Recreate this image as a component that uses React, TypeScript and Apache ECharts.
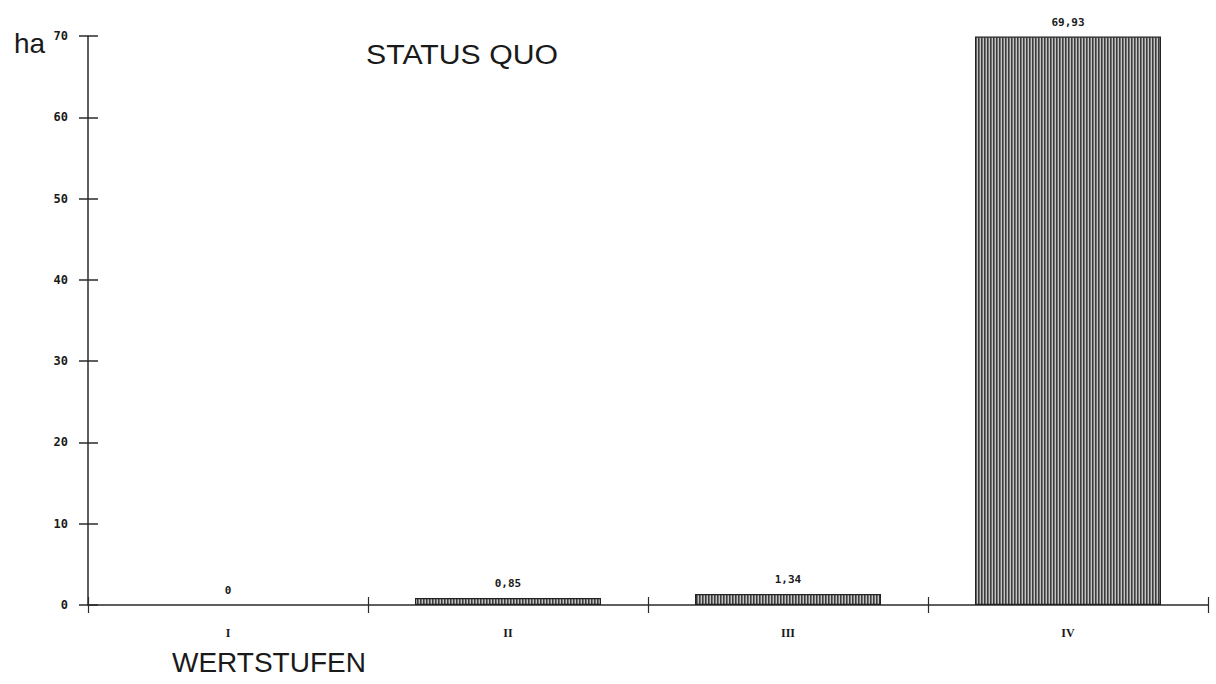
import React, { useEffect, useRef } from "react";
import * as echarts from "echarts";

const categories = ["I", "II", "III", "IV"];
const values = [0, 0.85, 1.34, 69.93];
const yTicks = { min: 0, max: 70, interval: 10 };
const titleText = "STATUS QUO";
const yName = "ha";
const xName = "WERTSTUFEN";

function makeStripes(): HTMLCanvasElement {
  const c = document.createElement("canvas");
  c.width = 3;
  c.height = 4;
  const ctx = c.getContext("2d")!;
  const cols = ["#3c3c3c", "#747474", "#c4c4c4"];
  cols.forEach((col, i) => {
    ctx.fillStyle = col;
    ctx.fillRect(i, 0, 1, 4);
  });
  return c;
}

export default function App() {
  const ref = useRef<HTMLDivElement>(null);
  useEffect(() => {
    document.body.style.margin = "0";
    const chart = echarts.init(ref.current!, null, { renderer: "svg" });
    const stripes = makeStripes();
    const numFont = "'DejaVu Sans Mono', monospace";
    const barData = values.map((v) =>
      v === 0 ? { value: v, itemStyle: { borderWidth: 0, opacity: 0 } } : v
    );
    chart.setOption({
      animation: false,
      backgroundColor: "#ffffff",
      grid: { left: 88, right: 8, top: 36, height: 569, containLabel: false },
      xAxis: [
        {
          type: "category",
          data: categories,
          position: "bottom",
          axisLine: { show: true, lineStyle: { color: "#2a2a2a", width: 1.5 } },
          axisTick: { show: true, length: 8, lineStyle: { color: "#2a2a2a", width: 1.2 } },
          axisLabel: {
            margin: 22,
            color: "#1a1a1a",
            fontFamily: "'Liberation Serif', serif",
            fontWeight: "bold",
            fontSize: 12,
          },
        },
        {
          type: "category",
          data: categories,
          position: "bottom",
          axisLine: { show: false },
          axisTick: { show: true, inside: true, length: 8, lineStyle: { color: "#2a2a2a", width: 1.2 } },
          axisLabel: { show: false },
        },
      ],
      yAxis: [
        {
          type: "value",
          position: "left",
          min: yTicks.min,
          max: yTicks.max,
          interval: yTicks.interval,
          axisLine: { show: true, lineStyle: { color: "#2a2a2a", width: 1.5 } },
          axisTick: { show: true, length: 9, lineStyle: { color: "#2a2a2a", width: 1.5 } },
          axisLabel: {
            margin: 20,
            color: "#1a1a1a",
            fontFamily: numFont,
            fontWeight: "bold",
            fontSize: 12,
          },
          splitLine: { show: false },
        },
        {
          type: "value",
          position: "left",
          min: yTicks.min,
          max: yTicks.max,
          interval: yTicks.interval,
          axisLine: { show: false },
          axisTick: { show: true, inside: true, length: 10, lineStyle: { color: "#2a2a2a", width: 1.5 } },
          axisLabel: { show: false },
          splitLine: { show: false },
        },
      ],
      series: [
        {
          type: "bar",
          data: barData,
          barWidth: 186,
          itemStyle: {
            color: { image: stripes, repeat: "repeat" },
            borderColor: "#222222",
            borderWidth: 1.2,
          },
          label: {
            show: true,
            position: "top",
            distance: 9,
            color: "#1a1a1a",
            fontFamily: numFont,
            fontWeight: "bold",
            fontSize: 11,
            opacity: 1,
            formatter: (p: any) => String(p.value).replace(".", ","),
          },
        },
      ],
      graphic: [
        {
          type: "text",
          x: 366,
          y: 55,
          scaleX: 1.12,
          style: {
            text: titleText,
            font: "normal 27px 'Liberation Sans', Arial, sans-serif",
            fill: "#1a1a1a",
            textAlign: "left",
            textVerticalAlign: "middle",
          },
        },
        {
          type: "text",
          x: 14,
          y: 43,
          style: {
            text: yName,
            font: "normal 28px 'Liberation Sans', Arial, sans-serif",
            fill: "#1a1a1a",
            textAlign: "left",
            textVerticalAlign: "middle",
          },
        },
        {
          type: "text",
          x: 172,
          y: 662,
          style: {
            text: xName,
            font: "normal 28px 'Liberation Sans', Arial, sans-serif",
            fill: "#1a1a1a",
            textAlign: "left",
            textVerticalAlign: "middle",
          },
        },
      ],
    });
    return () => chart.dispose();
  }, []);
  return (
    <div
      ref={ref}
      style={{ position: "fixed", left: 0, top: 0, width: 1216, height: 684 }}
    />
  );
}
